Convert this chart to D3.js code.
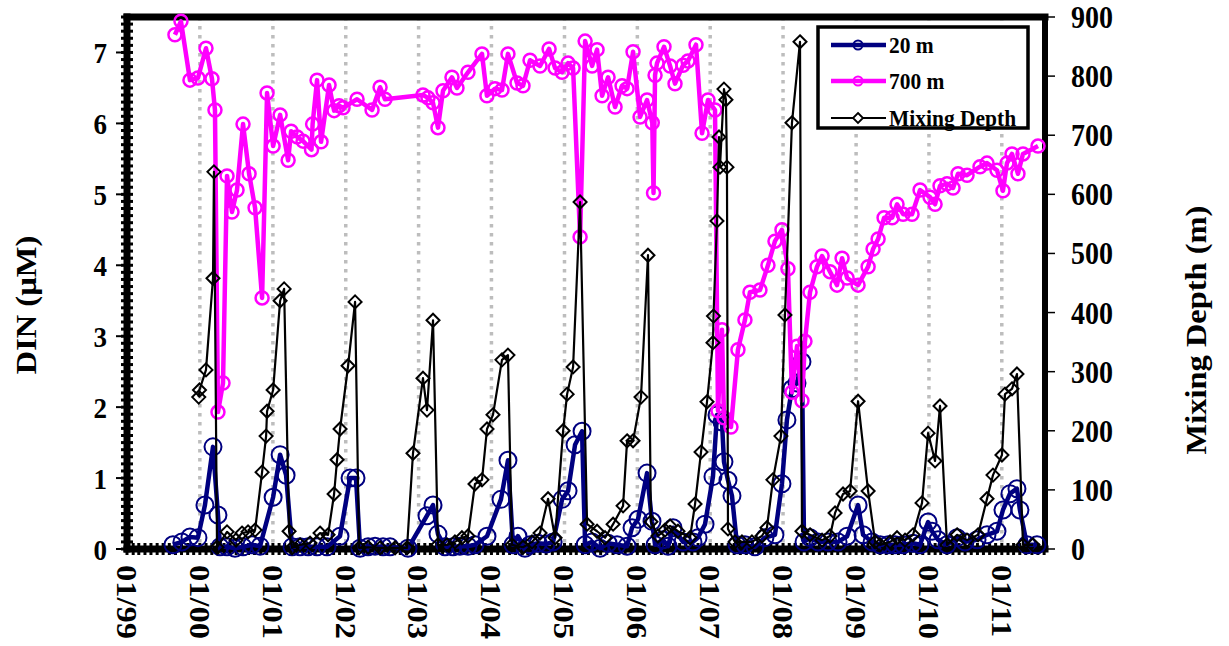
<!DOCTYPE html>
<html>
<head>
<meta charset="utf-8">
<script src="https://cdn.jsdelivr.net/npm/d3@7"></script>
<style>
  body { margin: 0; background: #fff; }
  text { font-family: "Liberation Serif", "Times New Roman", serif; font-weight: bold; fill: #000; }
</style>
</head>
<body>
<svg id="chart" width="1229" height="646"></svg>
<script>
// Sampling dates are decimal years.
const dates700 = [1999.658,1999.741,1999.864,1999.974,
  2000.084,2000.166,2000.207,2000.248,2000.317,2000.372,2000.440,2000.509,2000.591,2000.674,2000.756,2000.852,2000.920,
  2001.003,2001.099,2001.209,2001.250,2001.332,2001.414,2001.530,2001.545,2001.606,2001.661,2001.771,2001.840,2001.908,2001.963,
  2002.155,2002.361,2002.471,2002.539,
  2003.060,2003.129,2003.198,2003.266,2003.335,2003.458,2003.527,2003.678,2003.870,2003.938,
  2004.048,2004.144,2004.226,2004.350,2004.432,2004.528,2004.665,2004.789,2004.871,2004.967,
  2005.049,2005.118,2005.214,2005.283,2005.379,2005.447,2005.516,2005.598,2005.694,2005.790,2005.859,2005.941,
  2006.037,2006.133,2006.205,2006.222,2006.243,2006.270,2006.366,2006.449,2006.517,2006.627,2006.695,2006.805,2006.888,2006.970,
  2007.066,2007.107,2007.162,2007.189,2007.285,2007.381,2007.477,2007.546,2007.683,2007.793,2007.889,2007.985,
  2008.067,2008.122,2008.191,2008.259,2008.300,2008.369,2008.465,2008.534,2008.643,2008.739,2008.808,2008.877,
  2009.027,2009.165,2009.233,2009.302,2009.384,2009.494,2009.562,2009.645,2009.768,2009.878,
  2010.015,2010.084,2010.152,2010.248,2010.331,2010.399,2010.523,2010.701,2010.797,2010.934,
  2011.016,2011.071,2011.140,2011.222,2011.291,2011.497];
const din700 = [7.25,7.44,6.61,6.64,
  7.06,6.63,6.19,1.93,2.34,5.26,4.75,5.06,5.99,5.29,4.81,3.54,6.43,
  5.68,6.12,5.48,5.89,5.81,5.75,5.63,5.99,6.61,5.74,6.54,6.18,6.25,6.22,
  6.34,6.19,6.51,6.34,
  6.40,6.36,6.29,5.94,6.46,6.65,6.50,6.72,6.98,6.39,
  6.49,6.47,6.98,6.57,6.53,6.89,6.81,7.05,6.78,6.72,
  6.85,6.78,4.40,7.16,6.81,7.04,6.39,6.65,6.23,6.53,6.49,7.01,
  6.09,6.33,6.01,5.02,6.68,6.85,7.08,6.81,6.56,6.82,6.88,7.11,5.86,6.33,
  6.19,1.95,3.09,1.85,1.72,2.81,3.23,3.62,3.65,4.00,4.34,4.50,
  3.95,2.21,2.86,2.09,2.93,3.62,3.98,4.13,3.91,3.72,4.10,3.82,
  3.72,3.98,4.23,4.37,4.67,4.67,4.86,4.72,4.72,5.06,
  4.96,4.86,5.12,5.15,5.09,5.29,5.27,5.39,5.44,5.34,
  5.05,5.44,5.57,5.29,5.57,5.68];

const dates20 = [1999.631,1999.754,1999.864,1999.974,
  2000.070,2000.180,2000.248,2000.276,2000.372,2000.481,2000.591,2000.714,2000.824,
  2001.003,2001.099,2001.181,2001.263,2001.373,2001.483,2001.606,2001.743,2001.921,
  2002.059,2002.141,2002.196,2002.306,2002.402,2002.512,2002.608,2002.855,
  2003.115,2003.198,2003.266,2003.362,2003.472,2003.568,2003.678,2003.774,2003.939,
  2004.130,2004.226,2004.295,2004.363,2004.459,2004.528,2004.638,2004.748,2004.844,2004.967,
  2005.049,2005.145,2005.241,2005.283,2005.379,2005.488,2005.598,2005.721,2005.859,2005.927,
  2006.009,2006.133,2006.201,2006.243,2006.352,2006.421,2006.490,2006.627,2006.764,2006.833,2006.929,
  2007.038,2007.093,2007.162,2007.189,2007.244,2007.299,2007.368,2007.477,2007.614,2007.751,2007.889,2007.985,
  2008.053,2008.122,2008.191,2008.259,2008.287,2008.369,2008.479,2008.616,2008.753,2008.877,
  2009.027,2009.096,2009.219,2009.329,2009.439,2009.535,2009.645,2009.782,2009.878,2009.988,
  2010.042,2010.125,2010.248,2010.386,2010.495,2010.660,2010.797,2010.934,
  2011.016,2011.112,2011.208,2011.249,2011.345,2011.483];
const din20 = [0.06,0.10,0.17,0.16,
  0.62,1.44,0.48,0.03,0.03,0.01,0.03,0.06,0.04,
  0.73,1.33,1.04,0.03,0.03,0.03,0.03,0.03,0.18,
  1.00,1.00,0.01,0.03,0.04,0.03,0.03,0.01,
  0.47,0.62,0.21,0.03,0.03,0.04,0.04,0.06,0.18,
  0.70,1.25,0.06,0.18,0.01,0.06,0.08,0.07,0.10,0.70,
  0.82,1.47,1.66,0.06,0.10,0.01,0.08,0.06,0.04,0.30,
  0.42,1.07,0.39,0.06,0.13,0.04,0.30,0.10,0.10,0.16,0.35,
  1.02,1.89,1.79,1.23,0.97,0.75,0.06,0.06,0.03,0.16,0.20,0.92,
  1.82,2.26,2.34,2.64,0.10,0.16,0.10,0.10,0.10,0.18,
  0.62,0.20,0.10,0.06,0.06,0.06,0.06,0.08,0.06,0.38,
  0.25,0.13,0.06,0.16,0.10,0.13,0.20,0.25,
  0.55,0.78,0.85,0.55,0.06,0.06];

const datesMix = [1999.985,1999.995,
  2000.084,2000.180,2000.193,2000.235,2000.372,2000.495,2000.577,2000.660,2000.756,2000.852,2000.907,2000.920,
  2001.003,2001.099,2001.154,2001.222,2001.263,2001.373,2001.510,2001.647,2001.757,2001.840,2001.881,2001.922,
  2002.032,2002.128,2002.183,2002.306,2002.471,2002.677,2002.841,2002.923,
  2003.060,2003.115,2003.198,2003.266,2003.390,2003.499,2003.595,2003.678,2003.774,2003.870,2003.939,
  2004.021,2004.144,2004.226,2004.281,2004.432,2004.555,2004.665,2004.775,2004.871,2004.981,
  2005.036,2005.118,2005.214,2005.310,2005.447,2005.557,2005.667,2005.804,2005.859,2005.941,
  2006.050,2006.146,2006.187,2006.283,2006.379,2006.449,2006.558,2006.723,2006.792,2006.874,2006.956,
  2007.038,2007.045,2007.093,2007.121,2007.134,2007.189,2007.216,2007.230,2007.244,2007.340,2007.436,2007.573,2007.710,2007.779,2007.861,2007.971,
  2008.026,2008.122,2008.232,2008.259,2008.369,2008.534,2008.643,2008.712,2008.821,2008.918,
  2009.027,2009.165,2009.261,2009.329,2009.466,2009.562,2009.672,2009.782,2009.905,2009.988,
  2010.084,2010.152,2010.248,2010.386,2010.523,2010.674,2010.797,2010.879,
  2011.002,2011.044,2011.140,2011.208,2011.291,2011.428];
const mixDepth = [257,269,
  303,458,638,3,29,15,27,29,32,130,191,233,
  269,420,440,30,2,7,10,27,24,93,151,203,
  310,418,2,3,2,2,2,162,
  289,235,387,7,7,12,19,22,110,117,203,
  227,320,328,7,3,12,27,85,19,200,
  262,308,587,42,30,19,42,73,183,183,
  257,497,46,22,32,39,30,19,76,164,249,
  349,394,555,697,646,778,760,646,34,12,12,12,22,36,117,191,
  396,721,858,30,24,15,22,61,93,98,
  250,98,12,7,12,19,15,24,78,196,
  149,242,7,24,15,24,85,125,
  159,262,271,296,7,7];

const yearTicks = ["01/99","01/00","01/01","01/02","01/03","01/04","01/05","01/06","01/07","01/08","01/09","01/10","01/11"];
const dinTicks = [0,1,2,3,4,5,6,7];
const depthTicks = [0,100,200,300,400,500,600,700,800,900];
const seriesNames = ["20 m","700 m","Mixing Depth"];

// ---------------------------------------------------------------
const svg = d3.select("#chart");
svg.append("rect").attr("width",1229).attr("height",646).attr("fill","#fff");

const L = 127, R = 1045, T = 17, B = 549;
const STRETCH = 1.12;   // text is drawn slightly tall

const toDate = v => {
  const y = Math.floor(v);
  const a = Date.UTC(y,0,1), b = Date.UTC(y+1,0,1);
  return new Date(a + (v - y) * (b - a));
};

const x = d3.scaleUtc().domain([toDate(1999), toDate(2011.593)]).range([L, R]);
const yL = d3.scaleLinear().domain([0, 7.5]).range([B, T]);
const yR = d3.scaleLinear().domain([0, 900]).range([B, T]);

function label(g, px, py, str, size, anchor, rot, dy) {
  return g.append("text")
    .attr("transform", `translate(${px},${py}) scale(1,${STRETCH}) rotate(${rot||0})`)
    .attr("text-anchor", anchor)
    .attr("dy", dy == null ? "0.35em" : dy)
    .style("font-size", size + "px")
    .text(str);
}

// yearly gridlines
const gridYears = d3.range(2000, 2012);
svg.append("g").selectAll("line").data(gridYears).join("line")
  .attr("x1", d => x(toDate(d))).attr("x2", d => x(toDate(d)))
  .attr("y1", T).attr("y2", B)
  .attr("stroke", "#bdbdbd").attr("stroke-width", 3.5)
  .attr("stroke-dasharray", "3.5,5.5");

// frame and axes
const axes = svg.append("g");
// minor ticks on the DIN axis
axes.append("g").selectAll("line").data(d3.range(0, 7.51, 0.1)).join("line")
  .attr("x1", L - 6).attr("x2", L + 6)
  .attr("y1", d => yL(d)).attr("y2", d => yL(d))
  .attr("stroke", "#000").attr("stroke-width", 3);
// major ticks on the DIN axis
axes.append("g").selectAll("line").data(dinTicks).join("line")
  .attr("x1", L - 11).attr("x2", L)
  .attr("y1", d => yL(d)).attr("y2", d => yL(d))
  .attr("stroke", "#000").attr("stroke-width", 2);
// monthly minor ticks on the time axis
const months = d3.utcMonth.range(toDate(1999), toDate(2011.593));
axes.append("g").selectAll("line").data(months).join("line")
  .attr("x1", d => x(d)).attr("x2", d => x(d))
  .attr("y1", B - 6).attr("y2", B + 6)
  .attr("stroke", "#000").attr("stroke-width", 3);
// depth axis ticks
axes.append("g").selectAll("line").data(depthTicks).join("line")
  .attr("x1", R).attr("x2", R + 10)
  .attr("y1", d => yR(d)).attr("y2", d => yR(d))
  .attr("stroke", "#000").attr("stroke-width", 1.5);

axes.append("line").attr("x1", L).attr("x2", R).attr("y1", T).attr("y2", T)
  .attr("stroke", "#000").attr("stroke-width", 7).attr("stroke-linecap", "square");
axes.append("line").attr("x1", R).attr("x2", R).attr("y1", T).attr("y2", B)
  .attr("stroke", "#000").attr("stroke-width", 6).attr("stroke-linecap", "square");
axes.append("line").attr("x1", L).attr("x2", L).attr("y1", T).attr("y2", B)
  .attr("stroke", "#000").attr("stroke-width", 7).attr("stroke-linecap", "square");
axes.append("line").attr("x1", L).attr("x2", R).attr("y1", B).attr("y2", B)
  .attr("stroke", "#000").attr("stroke-width", 7).attr("stroke-linecap", "square");

// tick labels
const lab = svg.append("g");
dinTicks.forEach(v => label(lab, 107, yL(v), String(v), 27, "end"));
depthTicks.forEach(v => label(lab, 1071, yR(v), String(v), 28, "start"));
yearTicks.forEach((t, i) => label(lab, x(toDate(1999 + i)), 565, t, 29, "start", 90));

// axis titles
label(lab, 26, 305, "DIN (\u00B5M)", 29, "middle", -90);
label(lab, 1196, 330, "Mixing Depth (m)", 29, "middle", -90);

// series
const data20 = dates20.map((d, i) => ({ t: toDate(d), v: din20[i] }));
const data700 = dates700.map((d, i) => ({ t: toDate(d), v: din700[i] }));
const dataMix = datesMix.map((d, i) => ({ t: toDate(d), v: mixDepth[i] }));

const navy = "#000080", magenta = "#FF00FF";

function drawLine(data, yScale, color, width) {
  svg.append("path").datum(data)
    .attr("fill", "none").attr("stroke", color).attr("stroke-width", width)
    .attr("stroke-linejoin", "round")
    .attr("d", d3.line().x(d => x(d.t)).y(d => yScale(d.v)));
}
function drawCircles(data, yScale, color, r, sw) {
  svg.append("g").selectAll("circle").data(data).join("circle")
    .attr("cx", d => x(d.t)).attr("cy", d => yScale(d.v)).attr("r", r)
    .attr("fill", "none").attr("stroke", color).attr("stroke-width", sw);
}
const diamond = s => `M0,${-s}L${s},0L0,${s}L${-s},0Z`;
function drawDiamonds(data, yScale, color, s, sw) {
  svg.append("g").selectAll("path").data(data).join("path")
    .attr("transform", d => `translate(${x(d.t)},${yScale(d.v)})`)
    .attr("d", diamond(s))
    .attr("fill", "none").attr("stroke", color).attr("stroke-width", sw);
}

drawLine(data20, yL, navy, 4.5);
drawCircles(data20, yL, navy, 8.5, 2);
drawLine(data700, yL, magenta, 4.5);
drawCircles(data700, yL, magenta, 6.5, 2.5);
drawLine(dataMix, yR, "#000", 2.2);
drawDiamonds(dataMix, yR, "#000", 6.5, 2);

// legend
const leg = svg.append("g");
leg.append("rect").attr("x", 818).attr("y", 27).attr("width", 210).attr("height", 101)
  .attr("fill", "#fff").attr("stroke", "#000").attr("stroke-width", 3.5);
const legRows = [
  { name: seriesNames[0], color: navy, w: 4.5, y: 45, mark: "circle" },
  { name: seriesNames[1], color: magenta, w: 4.5, y: 81, mark: "circle" },
  { name: seriesNames[2], color: "#000", w: 2.2, y: 118, mark: "diamond" }
];
legRows.forEach(r => {
  leg.append("line").attr("x1", 831).attr("x2", 886).attr("y1", r.y).attr("y2", r.y)
    .attr("stroke", r.color).attr("stroke-width", r.w);
  if (r.mark === "circle") {
    leg.append("circle").attr("cx", 858).attr("cy", r.y).attr("r", 4.5)
      .attr("fill", "none").attr("stroke", r.color).attr("stroke-width", 2);
  } else {
    leg.append("path").attr("transform", `translate(858,${r.y})`).attr("d", diamond(5))
      .attr("fill", "#fff").attr("stroke", r.color).attr("stroke-width", 1.8);
  }
  label(leg, 889, r.y, r.name, 21.5, "start");
});
</script>
</body>
</html>
